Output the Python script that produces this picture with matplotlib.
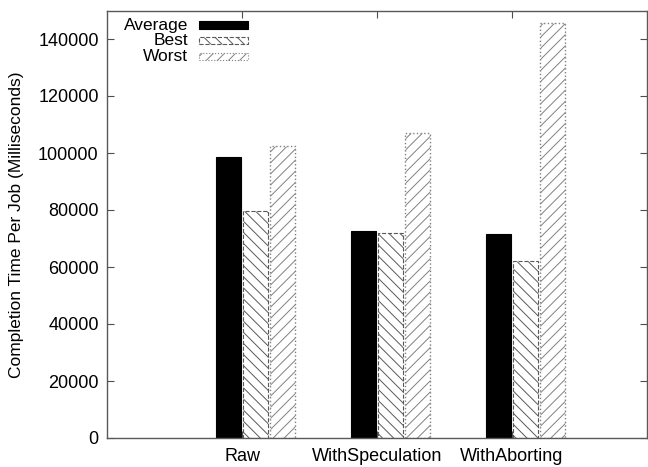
import matplotlib
matplotlib.use("Agg")
import matplotlib.pyplot as plt
from matplotlib.patches import Rectangle
import numpy as np

plt.rcParams['font.family'] = ['Liberation Sans', 'DejaVu Sans']
plt.rcParams['hatch.linewidth'] = 0.7

categories = ["Raw", "WithSpeculation", "WithAborting"]
average = [98500, 72500, 71500]
best = [79500, 72000, 62000]
worst = [102500, 107000, 145500]

fig = plt.figure(figsize=(6.48, 4.67), dpi=100)
ax = fig.add_axes([107 / 648, 1 - 438 / 467, 540 / 648, 427.5 / 467])

best_style = dict(facecolor="white", edgecolor="0.35", hatch="\\\\\\", linestyle="--")
worst_style = dict(facecolor="white", edgecolor="0.5", hatch="///", linestyle=":")

x = np.arange(1, len(categories) + 1)
w = 0.19
ax.bar(x - 0.1, average, w, color="black", edgecolor="black", linewidth=0.8)
ax.bar(x + 0.1, best, w, linewidth=0.8, **best_style)
ax.bar(x + 0.3, worst, w, linewidth=1.0, **worst_style)

ax.set_xlim(0, 4)
ax.set_ylim(0, 150000)
ax.set_xticks(x)
ax.set_xticklabels(categories, fontsize=13)
ax.set_yticks(np.arange(0, 150000, 20000))
ax.tick_params(axis="y", labelsize=13)
ax.tick_params(direction="in", top=True, right=True, length=5, width=0.8,
               color="0.3", pad=6)
ax.tick_params(axis="x", pad=7)
for s in ax.spines.values():
    s.set_color("0.35")
    s.set_linewidth(1.0)
ax.set_ylabel("Completion Time Per Job (Milliseconds)", fontsize=12.5)
ax.yaxis.set_label_coords(-0.153, 0.5)

# legend, gnuplot style: label then sample
rows = [("Average", dict(facecolor="black", edgecolor="black")),
        ("Best", best_style),
        ("Worst", worst_style)]
ys = [0.966, 0.929, 0.892]
for (lab, kw), yy in zip(rows, ys):
    ax.text(0.15, yy, lab, transform=ax.transAxes, ha="right", va="center", fontsize=12.5)
    ax.add_patch(Rectangle((0.17, yy - 0.0085), 0.091, 0.017, transform=ax.transAxes,
                           linewidth=0.8, clip_on=False, **kw))

fig.savefig("out.png", dpi=100)
